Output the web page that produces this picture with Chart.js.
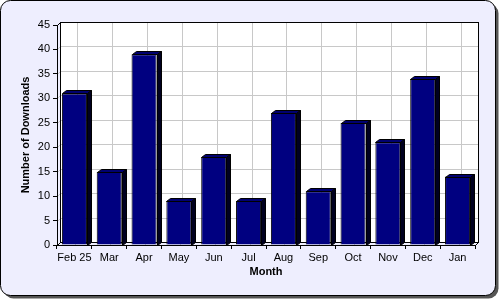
<!DOCTYPE html>
<html>
<head>
<meta charset="utf-8">
<script src="https://cdn.jsdelivr.net/npm/chart.js@4"></script>
<style>
  html, body { margin: 0; padding: 0; background: #ffffff; }
  #chart { display: block; }
</style>
</head>
<body>
<canvas id="chart" width="500" height="300"></canvas>
<script>
"use strict";
// chart data
var months = ["Feb 25", "Mar", "Apr", "May", "Jun", "Jul", "Aug", "Sep", "Oct", "Nov", "Dec", "Jan"];
var downloads = [31, 15, 39, 9, 18, 9, 27, 11, 25, 21, 34, 14];
var yTicks = [0, 5, 10, 15, 20, 25, 30, 35, 40, 45];

var DEPTH = 3;       // depth of the plot walls
var BAR_DX = 4;      // bar depth, x
var BAR_DY = 3;      // bar depth, y

function roundRect(ctx, x, y, w, h, r) {
    ctx.beginPath();
    ctx.moveTo(x + r, y);
    ctx.lineTo(x + w - r, y);
    ctx.arcTo(x + w, y, x + w, y + r, r);
    ctx.lineTo(x + w, y + h - r);
    ctx.arcTo(x + w, y + h, x + w - r, y + h, r);
    ctx.lineTo(x + r, y + h);
    ctx.arcTo(x, y + h, x, y + h - r, r);
    ctx.lineTo(x, y + r);
    ctx.arcTo(x, y, x + r, y, r);
    ctx.closePath();
}

function poly(ctx, pts, fill, stroke) {
    ctx.beginPath();
    ctx.moveTo(pts[0][0], pts[0][1]);
    for (var i = 1; i < pts.length; i++) ctx.lineTo(pts[i][0], pts[i][1]);
    ctx.closePath();
    ctx.fillStyle = fill;
    ctx.fill();
    ctx.strokeStyle = stroke;
    ctx.lineWidth = 1;
    ctx.stroke();
}

// frame, back wall and grid on the wall, 3D faces of the bars
var backdrop = {
    id: 'backdrop',
    beforeDraw: function(chart) {
        var ctx = chart.ctx;
        var a = chart.chartArea;
        var xs = chart.scales.x, ys = chart.scales.y;
        ctx.save();
        // shadow + frame
        ctx.fillStyle = '#555555';
        roundRect(ctx, 3.5, 3.5, 495, 295, 10);
        ctx.fill();
        ctx.fillStyle = '#eeeefe';
        roundRect(ctx, 0.5, 0.5, 495, 295, 10);
        ctx.fill();
        ctx.strokeStyle = '#000000';
        ctx.lineWidth = 1;
        ctx.stroke();

        var L = Math.round(a.left) + 0.5, R = Math.round(a.right) + 0.5;
        var T = Math.round(a.top) + 0.5, B = Math.round(a.bottom) + 0.5;
        // back wall
        ctx.fillStyle = '#ffffff';
        ctx.fillRect(L + DEPTH, T - DEPTH, R - L, B - T);
        // grid
        ctx.strokeStyle = '#c8c8c8';
        ctx.lineWidth = 1;
        ctx.beginPath();
        yTicks.forEach(function(v) {
            var y = Math.round(ys.getPixelForValue(v)) + 0.5;
            if (v > 0) {
                ctx.moveTo(L, y);
                ctx.lineTo(L + DEPTH, y - DEPTH);
                ctx.lineTo(R + DEPTH, y - DEPTH);
            }
        });
        months.forEach(function(m, i) {
            var x = Math.round(xs.getPixelForValue(i)) + 0.5;
            ctx.moveTo(x + DEPTH, T - DEPTH);
            ctx.lineTo(x + DEPTH, B - DEPTH);
            ctx.lineTo(x, B);
        });
        ctx.stroke();
        // wall outlines
        ctx.strokeStyle = '#000000';
        ctx.strokeRect(L + DEPTH, T - DEPTH, R - L, B - T);
        ctx.beginPath();
        ctx.moveTo(L, T); ctx.lineTo(L + DEPTH, T - DEPTH);
        ctx.moveTo(L, B); ctx.lineTo(L + DEPTH, B - DEPTH);
        ctx.moveTo(R, B); ctx.lineTo(R + DEPTH, B - DEPTH);
        ctx.stroke();
        ctx.restore();
    },
    afterDatasetsDraw: function(chart) {
        var ctx = chart.ctx;
        ctx.save();
        chart.getDatasetMeta(0).data.forEach(function(bar) {
            var half = bar.width / 2;
            var l = Math.round(bar.x - half) + 0.5, r = Math.round(bar.x + half) + 0.5;
            var t = Math.round(bar.y) + 0.5, b = Math.round(bar.base) + 0.5;
            poly(ctx, [[l, t], [l + BAR_DX, t - BAR_DY], [r + BAR_DX, t - BAR_DY], [r, t]], '#000070', '#000000');
            poly(ctx, [[r, t], [r + BAR_DX, t - BAR_DY], [r + BAR_DX, b - BAR_DY], [r, b]], '#000020', '#000000');
        });
        ctx.restore();
    }
};

var tickFont = { family: '"Liberation Sans", Arial, sans-serif', size: 11 };
var titleFont = { family: '"Liberation Sans", Arial, sans-serif', size: 11, weight: 'bold' };

new Chart(document.getElementById('chart'), {
    type: 'bar',
    data: {
        labels: months,
        datasets: [{
            label: 'Downloads',
            data: downloads,
            backgroundColor: '#000080',
            borderColor: '#000000',
            borderWidth: 1,
            categoryPercentage: 1.0,
            barPercentage: 0.72
        }]
    },
    options: {
        responsive: false,
        animation: false,
        devicePixelRatio: 1,
        layout: { padding: { left: 0, top: 25, right: 25, bottom: 0 } },
        plugins: {
            legend: { display: false },
            tooltip: { enabled: false }
        },
        scales: {
            x: {
                afterFit: function(scale) { scale.height = 55; },
                grid: { drawOnChartArea: false, drawTicks: true, tickLength: 4, color: '#000000' },
                border: { color: '#000000', width: 1 },
                ticks: { color: '#000000', font: tickFont, padding: 2, maxRotation: 0, autoSkip: false },
                title: { display: true, text: 'Month', color: '#000000', font: titleFont, padding: { top: 0, bottom: 21 } }
            },
            y: {
                min: 0,
                max: 45,
                afterFit: function(scale) { scale.width = 57; },
                afterBuildTicks: function(scale) {
                    scale.ticks = yTicks.map(function(v) { return { value: v }; });
                },
                grid: { drawOnChartArea: false, drawTicks: true, tickLength: 4, color: '#000000' },
                border: { color: '#000000', width: 1 },
                ticks: { color: '#000000', font: tickFont, padding: 3 },
                title: { display: true, text: 'Number of Downloads', color: '#000000', font: titleFont, padding: { top: 19, bottom: 0 } }
            }
        }
    },
    plugins: [backdrop]
});
</script>
</body>
</html>
